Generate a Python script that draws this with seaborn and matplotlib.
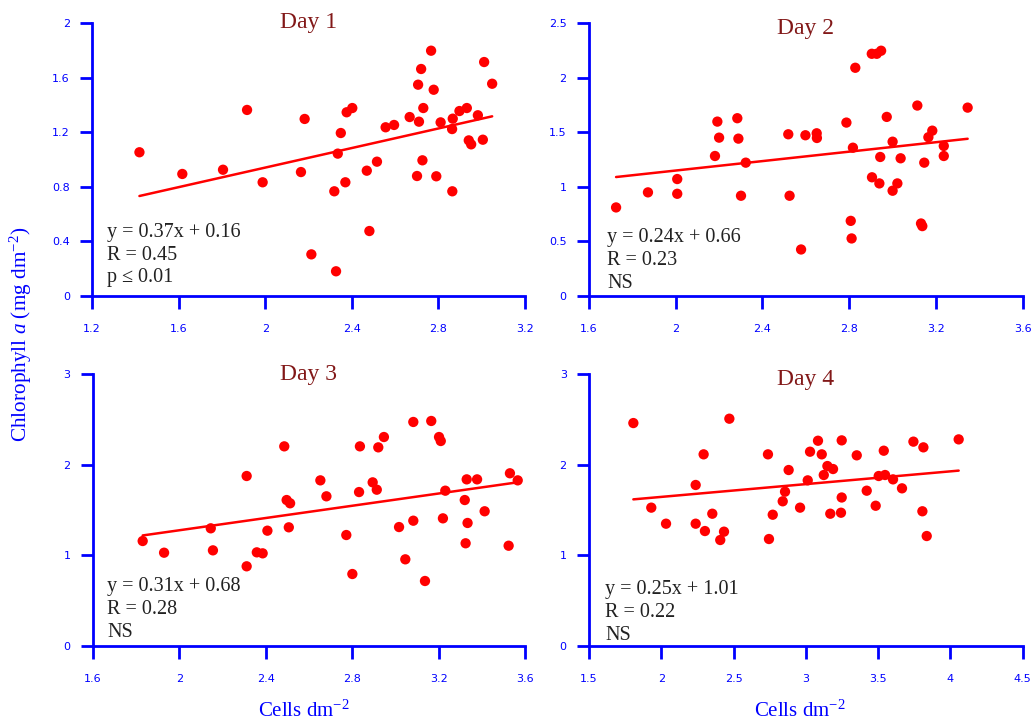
import matplotlib
matplotlib.use("Agg")
import matplotlib.pyplot as plt
import seaborn as sns
import numpy as np
import pandas as pd
from matplotlib.ticker import FuncFormatter

# ---------------- data ----------------
day1_x = [1.419, 1.617, 1.805, 1.916, 1.988, 2.165, 2.182, 2.213, 2.319, 2.327, 2.335,
          2.349, 2.370, 2.376, 2.402, 2.469, 2.481, 2.516, 2.556, 2.595, 2.667, 2.701,
          2.706, 2.710, 2.720, 2.726, 2.730, 2.766, 2.778, 2.790, 2.810, 2.864, 2.866,
          2.863, 2.897, 2.931, 2.940, 2.951, 2.982, 3.005, 3.011, 3.048]
day1_y = [1.053, 0.894, 0.925, 1.363, 0.833, 0.908, 1.297, 0.305, 0.767, 0.181, 1.043,
          1.194, 0.833, 1.346, 1.377, 0.918, 0.476, 0.984, 1.236, 1.253, 1.311, 0.879,
          1.548, 1.277, 1.663, 0.994, 1.377, 1.797, 1.511, 0.877, 1.272, 0.767, 1.299,
          1.223, 1.355, 1.377, 1.140, 1.111, 1.324, 1.145, 1.714, 1.555]

day2_x = [1.725, 1.872, 2.007, 2.007, 2.181, 2.192, 2.200, 2.284, 2.289, 2.301, 2.323,
          2.519, 2.525, 2.578, 2.598, 2.650, 2.651, 2.787, 2.807, 2.811, 2.817, 2.828,
          2.904, 2.927, 2.947, 2.905, 2.939, 2.943, 2.973, 3.000, 3.000, 3.022, 3.037,
          3.114, 3.131, 3.137, 3.146, 3.165, 3.183, 3.236, 3.236, 3.346]
day2_y = [0.811, 0.949, 1.071, 0.936, 1.282, 1.597, 1.450, 1.628, 1.441, 0.918, 1.221,
          1.481, 0.918, 0.426, 1.472, 1.490, 1.447, 1.588, 0.688, 0.527, 1.358, 2.090,
          2.218, 2.218, 2.246, 1.087, 1.031, 1.273, 1.640, 1.413, 0.964, 1.031, 1.261,
          1.744, 0.664, 0.640, 1.221, 1.454, 1.514, 1.374, 1.282, 1.725]

day3_x = [1.831, 1.930, 2.146, 2.156, 2.312, 2.312, 2.359, 2.386, 2.408, 2.486, 2.497,
          2.513, 2.507, 2.653, 2.681, 2.773, 2.801, 2.832, 2.836, 2.895, 2.914, 2.921,
          2.947, 3.017, 3.046, 3.083, 3.083, 3.137, 3.166, 3.202, 3.210, 3.220, 3.231,
          3.321, 3.325, 3.330, 3.334, 3.378, 3.413, 3.524, 3.530, 3.566]
day3_y = [1.158, 1.029, 1.298, 1.055, 1.875, 0.879, 1.033, 1.022, 1.272, 2.202, 1.610,
          1.574, 1.309, 1.827, 1.651, 1.224, 0.794, 1.698, 2.202, 1.805, 1.724, 2.191,
          2.305, 1.312, 0.956, 2.471, 1.382, 0.717, 2.482, 2.305, 2.261, 1.408, 1.713,
          1.610, 1.133, 1.838, 1.357, 1.838, 1.486, 1.106, 1.905, 1.827]

day4_x = [1.807, 1.931, 2.033, 2.238, 2.238, 2.293, 2.302, 2.353, 2.408, 2.434, 2.471,
          2.738, 2.745, 2.771, 2.840, 2.856, 2.881, 2.960, 3.013, 3.029, 3.084, 3.110,
          3.124, 3.149, 3.169, 3.188, 3.243, 3.248, 3.248, 3.352, 3.421, 3.483, 3.504,
          3.539, 3.548, 3.603, 3.665, 3.744, 3.806, 3.813, 3.836, 4.057]
day4_y = [2.459, 1.526, 1.349, 1.776, 1.349, 2.114, 1.268, 1.459, 1.169, 1.261, 2.507,
          2.114, 1.180, 1.448, 1.596, 1.702, 1.941, 1.526, 1.827, 2.143, 2.264, 2.114,
          1.886, 1.985, 1.459, 1.952, 1.470, 1.638, 2.268, 2.103, 1.713, 1.547, 1.875,
          2.154, 1.886, 1.838, 1.739, 2.254, 1.486, 2.191, 1.213, 2.279]

titles = ["Day 1", "Day 2", "Day 3", "Day 4"]
stats_text = [
    ["y = 0.37x + 0.16", "R = 0.45", "p \u2264 0.01"],
    ["y = 0.24x + 0.66", "R = 0.23", "NS"],
    ["y = 0.31x + 0.68", "R = 0.28", "NS"],
    ["y = 0.25x + 1.01", "R = 0.22", "NS"],
]
x_ticks = [
    [1.2, 1.6, 2.0, 2.4, 2.8, 3.2],
    [1.6, 2.0, 2.4, 2.8, 3.2, 3.6],
    [1.6, 2.0, 2.4, 2.8, 3.2, 3.6],
    [1.5, 2.0, 2.5, 3.0, 3.5, 4.0, 4.5],
]
y_ticks = [
    [0, 0.4, 0.8, 1.2, 1.6, 2.0],
    [0, 0.5, 1.0, 1.5, 2.0, 2.5],
    [0, 1, 2, 3],
    [0, 1, 2, 3],
]
ylabel = "Chlorophyll $\\mathit{a}$ (mg dm$^{-2}$)"
xlabel = "Cells dm$^{-2}$"

# ---------------- style ----------------
sns.set_theme(style="white")
plt.rcParams["font.family"] = ["DejaVu Sans"]
plt.rcParams["mathtext.fontset"] = "custom"
plt.rcParams["mathtext.rm"] = "Liberation Serif"
plt.rcParams["mathtext.it"] = "Liberation Serif:italic"

BLUE = "#0000ff"
RED = "#ff0000"
TITLE_COLOR = "#821818"
SERIF = "Liberation Serif"

fig = plt.figure(figsize=(10.34, 7.23), dpi=100)
positions = [
    [0.0890, 0.5906, 0.4188, 0.3776],
    [0.5696, 0.5906, 0.4195, 0.3776],
    [0.0897, 0.1065, 0.4181, 0.3762],
    [0.5696, 0.1065, 0.4195, 0.3762],
]
title_y = [1.0, 0.978, 1.0, 0.978]
text_base = [0.066, 0.045, 0.05, 0.04]
text_x = [0.035, 0.042, 0.034, 0.037]

xs = [day1_x, day2_x, day3_x, day4_x]
ys = [day1_y, day2_y, day3_y, day4_y]

fmt = FuncFormatter(lambda v, p: ("%g" % v))

for i in range(4):
    ax = fig.add_axes(positions[i])
    df = pd.DataFrame({"x": xs[i], "y": ys[i]})
    sns.regplot(data=df, x="x", y="y", ax=ax, scatter=False, ci=None,
                truncate=True, line_kws={"color": RED, "lw": 1.8})
    sns.scatterplot(data=df, x="x", y="y", ax=ax, color=RED, s=55,
                    edgecolor="none", linewidth=0, zorder=3)
    ax.set_xlim(x_ticks[i][0], x_ticks[i][-1])
    ax.set_ylim(y_ticks[i][0], y_ticks[i][-1])
    ax.set_xticks(x_ticks[i])
    ax.set_yticks(y_ticks[i])
    ax.xaxis.set_major_formatter(fmt)
    ax.yaxis.set_major_formatter(fmt)
    ax.set_xlabel("")
    ax.set_ylabel("")
    for side in ["top", "right"]:
        ax.spines[side].set_visible(False)
    for side in ["left", "bottom"]:
        ax.spines[side].set_color(BLUE)
        ax.spines[side].set_linewidth(2.0)
    ax.tick_params(axis="both", which="major", bottom=True, left=True,
                   direction="out", color=BLUE, length=9, width=2.0,
                   labelsize=8, labelcolor=BLUE)
    ax.tick_params(axis="x", pad=11)
    ax.tick_params(axis="y", pad=7)
    ax.patch.set_alpha(0)
    ax.text(0.5, title_y[i], titles[i], transform=ax.transAxes, ha="center",
            va="center", fontsize=17, color=TITLE_COLOR, family=SERIF)
    for j, line in enumerate(stats_text[i]):
        ax.text(text_x[i], text_base[i] + (2 - j) * 0.084, line,
                transform=ax.transAxes, ha="left", va="center",
                fontsize=14.5, color="#222222", family=SERIF)

fig.text(0.02, 0.537, ylabel, rotation=90, ha="center", va="center",
         fontsize=15.3, color=BLUE, family=SERIF)
fig.text(0.294, 0.017, xlabel, ha="center", va="center",
         fontsize=15, color=BLUE, family=SERIF)
fig.text(0.774, 0.017, xlabel, ha="center", va="center",
         fontsize=15, color=BLUE, family=SERIF)

fig.savefig("out.png", dpi=100)
